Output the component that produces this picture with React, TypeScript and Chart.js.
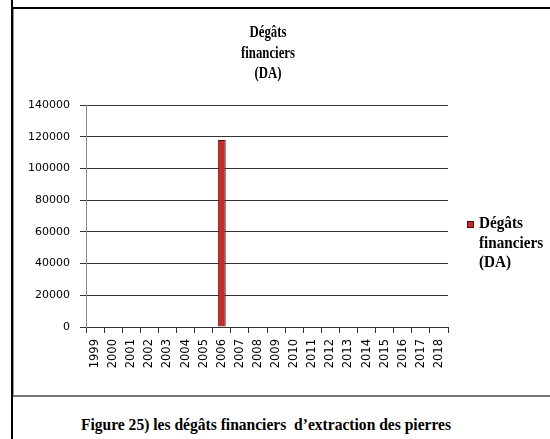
import React, { useEffect, useRef } from "react";
import { Chart, registerables } from "chart.js";

Chart.register(...registerables);

const categories = ["1999","2000","2001","2002","2003","2004","2005","2006","2007","2008","2009","2010","2011","2012","2013","2014","2015","2016","2017","2018"];
const degatsValues = [0,0,0,0,0,0,0,118000,0,0,0,0,0,0,0,0,0,0,0,0];
const seriesLabel = ["Dégâts", "financiers", "(DA)"];
const titleLines = ["Dégâts", "financiers", "(DA)"];
const yTicks = [0, 20000, 40000, 60000, 80000, 100000, 120000, 140000];
const captionText = "Figure 25) les dégâts financiers  d\u2019extraction des pierres";

const SERIF = "'Liberation Serif', 'Times New Roman', serif";

const textPlugin = {
  id: "titleAndLegend",
  afterDraw(chart: any) {
    const ctx = chart.ctx;
    const ca = chart.chartArea;
    ctx.save();
    // title
    ctx.fillStyle = "#000";
    ctx.font = `bold 16px ${SERIF}`;
    ctx.textAlign = "center";
    ctx.textBaseline = "alphabetic";
    const cx = (ca.left + ca.right) / 2 + 1;
    const tBase = [28, 49, 69];
    titleLines.forEach((line, i) => {
      ctx.save();
      ctx.translate(cx, tBase[i]);
      ctx.scale(0.8, 1);
      ctx.fillText(line, 0, 0);
      ctx.restore();
    });
    // legend
    const ds = chart.data.datasets[0];
    const x = ca.right + 19;
    ctx.fillStyle = "#c0312f";
    ctx.fillRect(x, 212, 7, 7);
    ctx.strokeStyle = "#5a0c0c";
    ctx.lineWidth = 1;
    ctx.strokeRect(x + 0.5, 212.5, 6, 6);
    ctx.fillStyle = "#000";
    ctx.font = `bold 16px ${SERIF}`;
    ctx.textAlign = "left";
    const lBase = [219, 238.5, 258];
    (ds.label as string[]).forEach((line: string, i: number) => {
      ctx.save();
      ctx.translate(x + 12, lBase[i]);
      ctx.scale(0.95, 1);
      ctx.fillText(line, 0, 0);
      ctx.restore();
    });
    ctx.restore();
  },
};

export default function App() {
  const ref = useRef<HTMLCanvasElement>(null);
  useEffect(() => {
    if (!ref.current) return;
    const chart = new Chart(ref.current, {
      type: "bar",
      data: {
        labels: categories,
        datasets: [
          {
            label: seriesLabel as any,
            data: degatsValues,
            backgroundColor: "#bd2e2c",
            borderColor: "#5a0c0c",
            borderWidth: 1,
            barPercentage: 0.44,
            categoryPercentage: 1,
          },
        ],
      },
      options: {
        responsive: false,
        animation: false,
        devicePixelRatio: 1,
        layout: { padding: { left: 0, right: 102, top: 96, bottom: 0 } },
        plugins: {
          legend: { display: false },
          tooltip: { enabled: false },
          title: { display: false },
        },
        scales: {
          x: {
            offset: true,
            grid: {
              offset: true,
              drawOnChartArea: false,
              drawTicks: true,
              tickLength: 6,
              color: "#333",
            },
            border: { display: true, color: "#333" },
            ticks: {
              autoSkip: false,
              minRotation: 90,
              maxRotation: 90,
              padding: 6,
              color: "#000",
              font: { family: "'DejaVu Sans'", size: 11.5 },
            },
            afterFit: (s: any) => {
              s.height = 68;
            },
          },
          y: {
            min: 0,
            max: 140000,
            afterBuildTicks: (s: any) => {
              s.ticks = yTicks.map((v) => ({ value: v }));
            },
            grid: {
              color: "#333",
              tickLength: 6,
              drawTicks: true,
            },
            border: { display: true, color: "#888" },
            ticks: {
              padding: 10,
              color: "#000",
              font: { family: "'DejaVu Sans'", size: 11 },
              callback: (v: any) => String(v),
            },
            afterFit: (s: any) => {
              s.width = 72;
            },
          },
        },
      },
      plugins: [textPlugin],
    } as any);
    return () => chart.destroy();
  }, []);

  return (
    <div style={{ position: "fixed", left: 0, top: 0, width: 550, height: 439, background: "#fff", overflow: "hidden" }}>
      <div style={{ position: "absolute", left: 11, top: 0, width: 2, height: 439, background: "#000" }} />
      <div style={{ position: "absolute", left: 11, top: 7, width: 539, height: 2, background: "#000" }} />
      <div style={{ position: "absolute", left: 13, top: 9, width: 1, height: 387, background: "#999" }} />
      <div style={{ position: "absolute", left: 13, top: 395, width: 537, height: 2, background: "#777" }} />
      <canvas
        ref={ref}
        width={536}
        height={386}
        style={{ position: "absolute", left: 14, top: 9, width: 536, height: 386 }}
      />
      <div
        style={{
          position: "absolute",
          left: 16,
          width: 500,
          top: 415,
          textAlign: "center",
          fontFamily: SERIF,
          fontWeight: "bold",
          fontSize: 17,
          color: "#000",
          whiteSpace: "pre",
          lineHeight: "20px",
          transform: "scaleX(0.915)",
          transformOrigin: "center",
        }}
      >
        {captionText}
      </div>
    </div>
  );
}
